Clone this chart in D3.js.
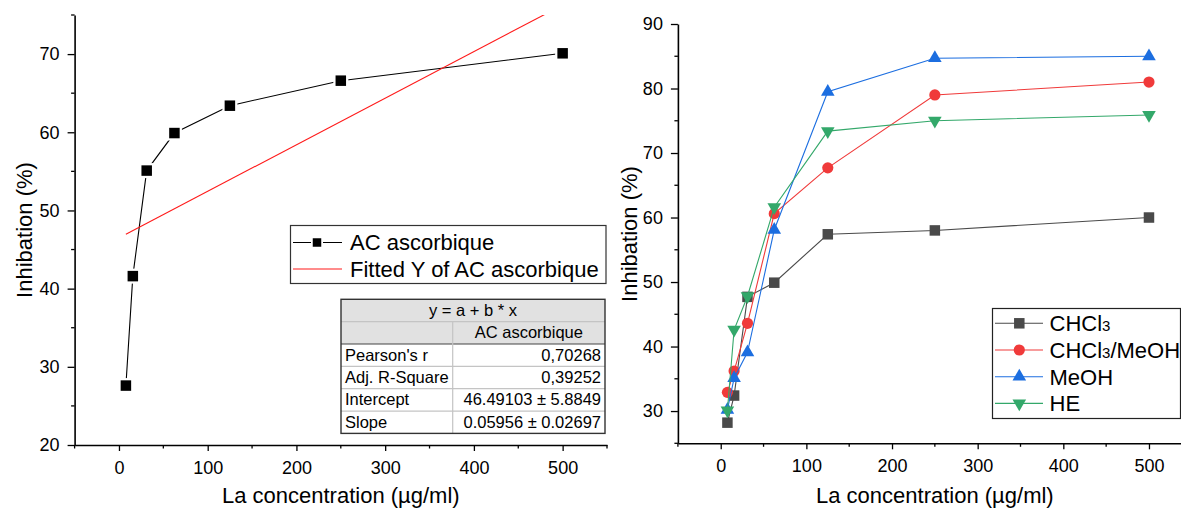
<!DOCTYPE html>
<html>
<head>
<meta charset="utf-8">
<script src="https://cdn.jsdelivr.net/npm/d3@7"></script>
<style>
  html, body { margin: 0; padding: 0; background: #fff; }
  svg { display: block; font-family: "Liberation Sans", Arial, sans-serif; }
</style>
</head>
<body>
<svg id="chart" width="1181" height="510"></svg>
<script>
// Concentrations tested (µg/ml)
const concentrations = [7.8125, 15.625, 31.25, 62.5, 125, 250, 500];

// Ascorbic acid reference
const acAscorbique = [27.6, 41.6, 55.1, 59.9, 63.4, 66.6, 70.1];
const fitIntercept = 46.49103;
const fitSlope = 0.05956;

// Extracts
const chcl3 = [28.2, 32.4, 47.7, 49.9, 57.4, 58.0, 60.0];
const chcl3MeOH = [32.9, 36.2, 43.6, 60.6, 67.7, 79.0, 81.0];
const meOH = [30.2, 35.1, 39.1, 58.1, 79.5, 84.7, 85.0];
const he = [30.1, 42.6, 47.8, 61.6, 73.4, 75.0, 75.9];

// Tick values
const xTicks = [0, 100, 200, 300, 400, 500];
const xMinorTicks = [-50, 50, 150, 250, 350, 450, 550];
const yTicksLeft = [20, 30, 40, 50, 60, 70];
const yMinorLeft = [25, 35, 45, 55, 65, 75];
const yTicksRight = [30, 40, 50, 60, 70, 80, 90];
const yMinorRight = [25, 35, 45, 55, 65, 75, 85];

// Linear fit summary table
const fitTableTitle = "y = a + b * x";
const fitTableColumn = "AC ascorbique";
const fitTableLabels = ["Pearson's r", "Adj. R-Square", "Intercept", "Slope"];
const fitTableValues = ["0,70268", "0,39252", "46.49103 \u00b1 5.8849", "0.05956 \u00b1 0.02697"];

const svg = d3.select("#chart");

function drawAxes(g, x, y, xt, xm, yt, ym) {
  const [x0, x1] = x.range();
  const [y0, y1] = y.range();
  const ax = g.append("g").attr("transform", `translate(0,${y0})`)
    .call(d3.axisBottom(x).tickValues(xt).tickSize(6).tickPadding(10).tickSizeOuter(0));
  ax.append("g").selectAll("line").data(xm).join("line")
    .attr("x1", d => x(d)).attr("x2", d => x(d)).attr("y1", 0).attr("y2", 3.5)
    .attr("stroke", "#000").attr("stroke-width", 1.3);
  const ay = g.append("g").attr("transform", `translate(${x0},0)`)
    .call(d3.axisLeft(y).tickValues(yt).tickSize(7).tickPadding(8).tickSizeOuter(0));
  ay.append("g").selectAll("line").data(ym).join("line")
    .attr("y1", d => y(d)).attr("y2", d => y(d)).attr("x1", 0).attr("x2", -3.5)
    .attr("stroke", "#000").attr("stroke-width", 1.3);
  [ax, ay].forEach(a => {
    a.select(".domain").attr("stroke", "#000").attr("stroke-width", 1.6);
    a.selectAll(".tick line").attr("stroke", "#000").attr("stroke-width", 1.3);
    a.selectAll(".tick text").attr("font-size", 18).attr("fill", "#000")
      .attr("font-family", "Liberation Sans, Arial, sans-serif");
  });
  g.append("text").attr("x", (x0 + x1) / 2).attr("y", 503).attr("text-anchor", "middle")
    .attr("font-size", 22).text("La concentration (\u00b5g/ml)");
}

function yTitle(g, cx, cy) {
  g.append("text").attr("transform", `translate(${cx},${cy}) rotate(-90)`)
    .attr("text-anchor", "middle").attr("dy", "0.35em")
    .attr("font-size", 22).text("Inhibation (%)");
}

const square = d3.symbol().type(d3.symbolSquare);
const circle = d3.symbol().type(d3.symbolCircle);
const triUp = d3.symbol().type(d3.symbolTriangle);

/* ---------------- Left panel: ascorbic acid ---------------- */
const xL = d3.scaleLinear().domain([-50, 550]).range([74.6, 607]);
const yL = d3.scaleLinear().domain([20, 75]).range([445, 15]);
const gL = svg.append("g");

svg.append("defs").append("clipPath").attr("id", "clipL")
  .append("rect").attr("x", xL(-50)).attr("y", yL(75))
  .attr("width", xL(550) - xL(-50)).attr("height", yL(20) - yL(75));

drawAxes(gL, xL, yL, xTicks, xMinorTicks, yTicksLeft, yMinorLeft);
yTitle(gL, 24, 230);

const acData = concentrations.map((c, i) => [c, acAscorbique[i]]);
gL.append("path").datum(acData)
  .attr("d", d3.line().x(d => xL(d[0])).y(d => yL(d[1])))
  .attr("fill", "none").attr("stroke", "#000").attr("stroke-width", 1.1);

// fitted straight line over the tested range
const fitX = [concentrations[0], concentrations[concentrations.length - 1]];
gL.append("path").datum(fitX.map(c => [c, fitIntercept + fitSlope * c]))
  .attr("clip-path", "url(#clipL)")
  .attr("d", d3.line().x(d => xL(d[0])).y(d => yL(d[1])))
  .attr("fill", "none").attr("stroke", "#ff1a1a").attr("stroke-width", 1.1);

// white halo gives the gap between line and marker
gL.selectAll(".halo").data(acData).join("path")
  .attr("transform", d => `translate(${xL(d[0])},${yL(d[1])})`)
  .attr("d", square.size(15 * 15)()).attr("fill", "#fff");
gL.selectAll(".mk").data(acData).join("path")
  .attr("transform", d => `translate(${xL(d[0])},${yL(d[1])})`)
  .attr("d", square.size(10.5 * 10.5)()).attr("fill", "#000");

// legend
const legL = gL.append("g");
legL.append("rect").attr("x", 290.5).attr("y", 225.5).attr("width", 315.5).attr("height", 58)
  .attr("fill", "#fff").attr("stroke", "#333").attr("stroke-width", 1.2);
legL.append("line").attr("x1", 293).attr("x2", 342).attr("y1", 242.5).attr("y2", 242.5)
  .attr("stroke", "#000").attr("stroke-width", 1.1);
legL.append("path").attr("transform", "translate(317,242.5)")
  .attr("d", square.size(12 * 12)()).attr("fill", "#fff");
legL.append("path").attr("transform", "translate(317,242.5)")
  .attr("d", square.size(8.5 * 8.5)()).attr("fill", "#000");
legL.append("line").attr("x1", 293).attr("x2", 342).attr("y1", 269).attr("y2", 269)
  .attr("stroke", "#ff1a1a").attr("stroke-width", 1.1);
legL.append("text").attr("x", 350).attr("y", 250).attr("font-size", 22).text("AC ascorbique");
legL.append("text").attr("x", 350).attr("y", 277).attr("font-size", 22).text("Fitted Y of AC ascorbique");

// fit summary table
const tb = gL.append("g");
const tX0 = 341, tX1 = 605, tCol = 452.7, tY0 = 299.3, rowH = 22.35;
const rowY = i => tY0 + i * rowH;
tb.append("rect").attr("x", tX0).attr("y", rowY(0)).attr("width", tX1 - tX0).attr("height", rowH * 2)
  .attr("fill", "#e1e1e1");
tb.append("rect").attr("x", tX0).attr("y", rowY(2)).attr("width", tX1 - tX0).attr("height", rowH * 4)
  .attr("fill", "#fff");
[1, 3, 4, 5].forEach(i => tb.append("line").attr("x1", tX0).attr("x2", tX1)
  .attr("y1", rowY(i)).attr("y2", rowY(i)).attr("stroke", "#c4c4c4").attr("stroke-width", 1.2));
tb.append("line").attr("x1", tX0).attr("x2", tX1).attr("y1", rowY(2)).attr("y2", rowY(2))
  .attr("stroke", "#444").attr("stroke-width", 1.2);
tb.append("line").attr("x1", tCol).attr("x2", tCol).attr("y1", rowY(1)).attr("y2", rowY(6))
  .attr("stroke", "#c4c4c4").attr("stroke-width", 1.2);
tb.append("rect").attr("x", tX0).attr("y", rowY(0)).attr("width", tX1 - tX0).attr("height", rowH * 6)
  .attr("fill", "none").attr("stroke", "#333").attr("stroke-width", 1.4);
tb.append("text").attr("x", (tX0 + tX1) / 2).attr("y", rowY(0) + 17).attr("text-anchor", "middle")
  .attr("font-size", 16.5).text(fitTableTitle);
tb.append("text").attr("x", (tCol + tX1) / 2).attr("y", rowY(1) + 16.5).attr("text-anchor", "middle")
  .attr("font-size", 16.5).text(fitTableColumn);
fitTableLabels.forEach((lab, i) => {
  tb.append("text").attr("x", tX0 + 4).attr("y", rowY(2 + i) + 16.5)
    .attr("font-size", 16.5).text(lab);
  tb.append("text").attr("x", tX1 - 4).attr("y", rowY(2 + i) + 16.5).attr("text-anchor", "end")
    .attr("font-size", 16.5).text(fitTableValues[i]);
});

/* ---------------- Right panel: extracts ---------------- */
const xR = d3.scaleLinear().domain([-50, 550]).range([677.9, 1191.8]);
const yR = d3.scaleLinear().domain([25, 90]).range([443.3, 24]);
const gR = svg.append("g");
drawAxes(gR, xR, yR, xTicks, xMinorTicks, yTicksRight, yMinorRight);
yTitle(gR, 629, 234);

const series = [
  { name: "CHCl", sub: "3", rest: "", values: chcl3, color: "#4a4a4a", shape: "square" },
  { name: "CHCl", sub: "3", rest: "/MeOH", values: chcl3MeOH, color: "#f03a3a", shape: "circle" },
  { name: "MeOH", sub: "", rest: "", values: meOH, color: "#1c6ee0", shape: "up" },
  { name: "HE", sub: "", rest: "", values: he, color: "#33a86a", shape: "down" }
];

function markerPath(shape) {
  if (shape === "square") return square.size(10.5 * 10.5)();
  if (shape === "circle") return circle.size(Math.PI * 5.6 * 5.6)();
  return triUp.size(80)();
}
function markerTransform(shape, px, py) {
  if (shape === "down") return `translate(${px},${py}) rotate(180)`;
  return `translate(${px},${py})`;
}

const lineR = d3.line().x(d => xR(d[0])).y(d => yR(d[1]));
series.forEach(s => {
  const pts = concentrations.map((c, i) => [c, s.values[i]]);
  const gs = gR.append("g");
  gs.append("path").datum(pts).attr("d", lineR)
    .attr("fill", "none").attr("stroke", s.color).attr("stroke-width", 1.1);
  gs.selectAll("path.m").data(pts).join("path").attr("class", "m")
    .attr("transform", d => markerTransform(s.shape, xR(d[0]), yR(d[1])))
    .attr("d", markerPath(s.shape)).attr("fill", s.color);
});

// legend
const legR = gR.append("g");
legR.append("rect").attr("x", 992.5).attr("y", 308.5).attr("width", 188).attr("height", 110)
  .attr("fill", "#fff").attr("stroke", "#222").attr("stroke-width", 1.2);
series.forEach((s, i) => {
  const ly = 323.3 + i * 26.7;
  legR.append("line").attr("x1", 995).attr("x2", 1043).attr("y1", ly).attr("y2", ly)
    .attr("stroke", s.color).attr("stroke-width", 1.1);
  legR.append("path").attr("transform", markerTransform(s.shape, 1019.3, ly))
    .attr("d", markerPath(s.shape)).attr("fill", s.color);
  const t = legR.append("text").attr("x", 1049.5).attr("y", ly + 8).attr("font-size", 22);
  t.append("tspan").text(s.name);
  if (s.sub) t.append("tspan").attr("font-size", 15).text(s.sub);
  if (s.rest) t.append("tspan").text(s.rest);
});
</script>
</body>
</html>
